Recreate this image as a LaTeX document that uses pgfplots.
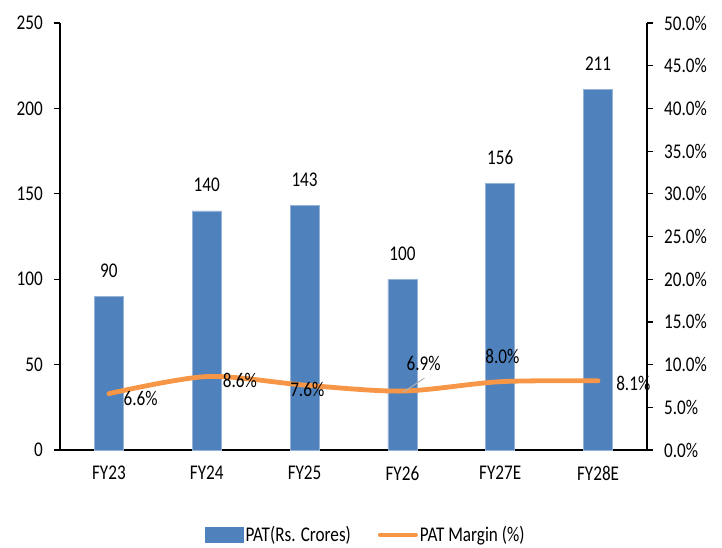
\documentclass[border=0pt]{standalone}
\usepackage{fontspec}
\setmainfont[FakeStretch=0.82]{Carlito}
\usepackage{pgfplots}
\pgfplotsset{compat=1.18}
\definecolor{barblue}{HTML}{4F81BD}
\definecolor{lineorange}{HTML}{F79646}
\newcommand{\chartfont}{\fontsize{21}{25}\selectfont}

\begin{document}
\begin{tikzpicture}[font=\chartfont]
\useasboundingbox (-60bp,-98bp) rectangle (662bp,450bp);

% PAT bars on the left axis
\begin{axis}[
  at={(0,0)}, anchor=south west,
  scale only axis, width=587bp, height=427bp,
  xmin=-0.5, xmax=5.5, ymin=0, ymax=250,
  axis y line*=left, axis x line*=bottom,
  axis line style={-, line width=1.6bp, black},
  xtick={0,...,5},
  xticklabels={FY23,FY24,FY25,FY26,FY27E,FY28E},
  xtick style={draw=none},
  ytick={0,50,...,250},
  ytick align=outside, major tick length=6bp,
  ytick style={line width=1.2bp, black},
  /pgf/number format/assume math mode=true,
  xticklabel style={font=\chartfont, anchor=north, inner sep=0pt, yshift=-10bp},
  yticklabel style={font=\chartfont, anchor=east, inner sep=0pt, xshift=-11bp},
  ybar, bar width=29bp,
  nodes near coords,
  every node near coord/.append style={anchor=base, yshift=19bp, inner sep=0pt,
    font=\chartfont},
  clip=false,
]
\addplot[fill=barblue, draw=barblue!60!white, line width=0.6bp]
  coordinates {(0,90) (1,140) (2,143) (3,100) (4,156) (5,211)};
\end{axis}

% PAT margin line on the right axis
\begin{axis}[
  at={(0,0)}, anchor=south west,
  scale only axis, width=587bp, height=427bp,
  xmin=-0.5, xmax=5.5, ymin=0, ymax=50,
  axis y line*=right, axis x line=none,
  axis line style={-, line width=1.6bp, black},
  ytick={0,5,...,50},
  yticklabels={0.0\%,5.0\%,10.0\%,15.0\%,20.0\%,25.0\%,30.0\%,35.0\%,40.0\%,45.0\%,50.0\%},
  ytick align=outside, major tick length=6bp,
  ytick style={line width=1.2bp, black},
  yticklabel style={font=\chartfont, anchor=west, inner sep=0pt, xshift=11bp},
  clip=false,
  legend columns=2,
  legend style={draw=none, at={(0.521,-0.199)}, anchor=center,
    font=\chartfont,
    /tikz/every even column/.append style={column sep=25bp}},
]
\addlegendimage{legend image code/.code={\fill[barblue] (0bp,-7.5bp) rectangle (38bp,7.5bp);}}
\addlegendentry{PAT(Rs. Crores)}
\addplot[lineorange, line width=4.8bp, smooth, line cap=round, no marks,
  legend image code/.code={\draw[lineorange, line width=4bp, line cap=round] (0bp,0bp) -- (36bp,0bp);}]
  coordinates {(0,6.6) (1,8.6) (2,7.6) (3,6.9) (4,8.0) (5,8.1)};
\addlegendentry{PAT Margin (\%)}

\draw[gray!60, line width=1bp] ([xshift=1bp,yshift=-1bp]axis cs:3,6.9) -- ([xshift=22bp,yshift=13bp]axis cs:3,6.9);
\begin{scope}[every node/.style={inner sep=0pt, anchor=west}]
\node at ([xshift=14.5bp,yshift=-4.4bp]axis cs:0,6.6) {6.6\%};
\node at ([xshift=16bp,yshift=-3.4bp]axis cs:1,8.6) {8.6\%};
\node at ([xshift=-14.5bp,yshift=-4bp]axis cs:2,7.6) {7.6\%};
\node at ([xshift=4bp,yshift=28bp]axis cs:3,6.9) {6.9\%};
\node at ([xshift=-15bp,yshift=25.7bp]axis cs:4,8.0) {8.0\%};
\node at ([xshift=18bp,yshift=-3bp]axis cs:5,8.1) {8.1\%};
\end{scope}
\end{axis}
\end{tikzpicture}
\end{document}
